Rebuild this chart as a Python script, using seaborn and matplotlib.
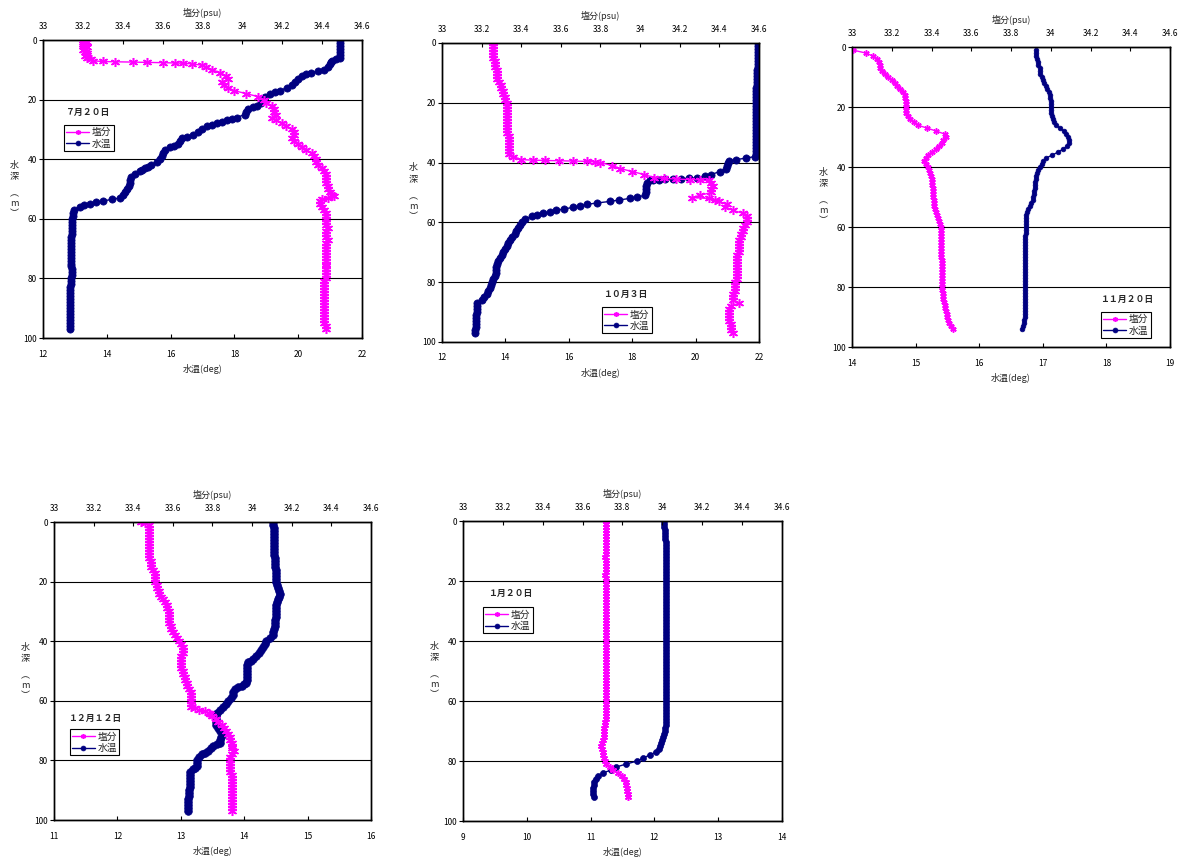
import matplotlib
matplotlib.use("Agg")
import matplotlib.pyplot as plt
import pandas as pd
import seaborn as sns

# ---------------- data ----------------
# 7月20日 (depth 0..97 m, 1 m step) + extra points inside steep steps
jul_temp = [21.30, 21.30, 21.31, 21.31, 21.32, 21.31, 21.30, 21.06, 21.00, 20.92,
            20.80, 20.40, 20.12, 20.00, 19.90, 19.80, 19.64, 19.43, 19.12, 18.96,
            18.90, 18.85, 18.70, 18.44, 18.37, 18.33, 18.07, 17.76, 17.45, 17.13,
            16.97, 16.87, 16.71, 16.35, 16.29, 16.24, 15.98, 15.82, 15.77, 15.72,
            15.66, 15.56, 15.40, 15.19, 15.04, 14.88, 14.77, 14.74, 14.72, 14.70,
            14.62, 14.57, 14.51, 14.41, 13.88, 13.47, 13.15, 12.96, 12.94, 12.93,
            12.92, 12.91, 12.91, 12.90, 12.90, 12.90, 12.89, 12.89, 12.88, 12.88,
            12.87, 12.87, 12.88, 12.88, 12.89, 12.89, 12.89, 12.90, 12.90, 12.90,
            12.89, 12.88, 12.87, 12.86, 12.85, 12.84, 12.84, 12.85, 12.86, 12.86,
            12.86, 12.85, 12.85, 12.84, 12.84, 12.84, 12.85, 12.86]
jul_temp_xd = [6.5, 7.5, 10.5, 11.5, 17.5, 22.5, 26.5, 27.5, 28.5, 32.5, 35.5, 42.5, 43.5, 53.5, 54.5, 55.5]
jul_temp_xv = [21.20, 21.03, 20.62, 20.25, 19.28, 18.57, 17.92, 17.60, 17.29, 16.52, 16.10, 15.30, 15.11, 14.15, 13.66, 13.30]
jul_sal = [33.20, 33.21, 33.20, 33.21, 33.21, 33.22, 33.22, 33.25, 33.75, 33.82,
           33.85, 33.89, 33.92, 33.93, 33.90, 33.91, 33.93, 33.96, 34.02, 34.08,
           34.11, 34.12, 34.15, 34.16, 34.16, 34.17, 34.15, 34.17, 34.20, 34.22,
           34.25, 34.26, 34.26, 34.25, 34.26, 34.28, 34.30, 34.32, 34.35, 34.36,
           34.37, 34.37, 34.38, 34.40, 34.41, 34.42, 34.42, 34.42, 34.42, 34.43,
           34.43, 34.44, 34.45, 34.43, 34.39, 34.39, 34.40, 34.41, 34.42, 34.42,
           34.42, 34.42, 34.42, 34.43, 34.42, 34.42, 34.42, 34.43, 34.42, 34.42,
           34.42, 34.42, 34.42, 34.42, 34.42, 34.42, 34.42, 34.42, 34.42, 34.42,
           34.42, 34.41, 34.41, 34.41, 34.41, 34.41, 34.41, 34.41, 34.41, 34.41,
           34.41, 34.41, 34.41, 34.41, 34.41, 34.41, 34.42, 34.42]
jul_sal_xd = [0.5, 1.5, 2.5, 3.5, 4.5, 5.5, 6.5, 7.2, 7.3, 7.4, 7.5, 7.6, 7.7, 7.8, 8.5, 52.5, 53.5]
jul_sal_xv = [33.22, 33.20, 33.22, 33.20, 33.22, 33.21, 33.24, 33.30, 33.36, 33.45, 33.52, 33.60, 33.66, 33.70, 33.80, 34.46, 34.40]

# 10月3日 (depth 0..97 m)
oct_temp = [21.97, 21.97, 21.97, 21.97, 21.97, 21.97, 21.96, 21.96, 21.96, 21.95,
            21.95, 21.94, 21.94, 21.93, 21.93, 21.92, 21.92, 21.91, 21.91, 21.91,
            21.90, 21.90, 21.90, 21.90, 21.90, 21.90, 21.90, 21.90, 21.90, 21.90,
            21.90, 21.90, 21.90, 21.90, 21.90, 21.90, 21.90, 21.90, 21.86, 21.29,
            21.02, 20.98, 20.97, 20.76, 20.50, 20.03, 18.55, 18.47, 18.45, 18.45,
            18.45, 18.40, 17.92, 17.30, 16.56, 16.14, 15.61, 15.19, 14.83, 14.62,
            14.51, 14.46, 14.40, 14.35, 14.30, 14.22, 14.14, 14.09, 14.04, 13.98,
            13.93, 13.88, 13.83, 13.77, 13.72, 13.70, 13.70, 13.69, 13.67, 13.62,
            13.57, 13.54, 13.51, 13.46, 13.41, 13.32, 13.25, 13.11, 13.09, 13.09,
            13.09, 13.08, 13.07, 13.07, 13.07, 13.06, 13.05, 13.05]
oct_temp_xd = [38.5, 39.5, 44.5, 45.3, 45.4, 45.5, 45.6, 45.7, 45.8, 51.5, 52.5, 53.5, 54.5, 55.5, 56.5, 57.5]
oct_temp_xv = [21.60, 21.05, 20.30, 19.80, 19.55, 19.30, 19.05, 18.85, 18.65, 18.15, 17.60, 16.90, 16.35, 15.85, 15.40, 15.00]
oct_sal = [33.26, 33.26, 33.26, 33.26, 33.26, 33.26, 33.27, 33.27, 33.27, 33.28,
           33.28, 33.28, 33.28, 33.29, 33.30, 33.30, 33.31, 33.31, 33.32, 33.32,
           33.33, 33.33, 33.33, 33.33, 33.33, 33.33, 33.33, 33.33, 33.33, 33.33,
           33.33, 33.34, 33.34, 33.34, 33.34, 33.34, 33.34, 33.34, 33.36, 33.40,
           33.80, 33.86, 33.90, 33.96, 34.02, 34.07, 34.35, 34.36, 34.37, 34.36,
           34.36, 34.30, 34.35, 34.40, 34.44, 34.43, 34.47, 34.52, 34.54, 34.54,
           34.54, 34.53, 34.52, 34.52, 34.51, 34.51, 34.50, 34.50, 34.50, 34.50,
           34.50, 34.49, 34.49, 34.49, 34.49, 34.49, 34.49, 34.49, 34.49, 34.49,
           34.48, 34.48, 34.48, 34.48, 34.47, 34.47, 34.47, 34.50, 34.46, 34.45,
           34.45, 34.45, 34.45, 34.45, 34.46, 34.46, 34.46, 34.47]
oct_sal_xd = [39.2, 39.3, 39.4, 39.5, 39.6, 39.8, 45.3, 45.5, 45.7, 45.8, 51.7, 52.5]
oct_sal_xv = [33.46, 33.52, 33.59, 33.66, 33.73, 33.77, 34.12, 34.18, 34.25, 34.30, 34.26, 34.38]

# 11月20日 (depth 1..94 m)
nov_sal = [33.005, 33.07, 33.106, 33.126, 33.136, 33.14, 33.143, 33.153, 33.164, 33.181,
           33.20, 33.215, 33.226, 33.24, 33.257, 33.265, 33.268, 33.27, 33.27, 33.27,
           33.27, 33.273, 33.28, 33.29, 33.31, 33.33, 33.377, 33.424, 33.466, 33.475,
           33.46, 33.455, 33.44, 33.424, 33.40, 33.38, 33.37, 33.36, 33.374, 33.38,
           33.385, 33.39, 33.395, 33.40, 33.40, 33.404, 33.405, 33.408, 33.41, 33.41,
           33.412, 33.415, 33.415, 33.416, 33.424, 33.43, 33.435, 33.44, 33.443, 33.446,
           33.447, 33.447, 33.448, 33.448, 33.449, 33.449, 33.45, 33.45, 33.45, 33.45,
           33.452, 33.452, 33.453, 33.453, 33.454, 33.454, 33.455, 33.455, 33.455, 33.455,
           33.455, 33.456, 33.458, 33.46, 33.463, 33.466, 33.47, 33.475, 33.478, 33.48,
           33.484, 33.488, 33.50, 33.51]
nov_temp = [16.89, 16.89, 16.90, 16.91, 16.92, 16.93, 16.95, 16.95, 16.96, 16.98,
            17.00, 17.02, 17.05, 17.07, 17.10, 17.11, 17.12, 17.13, 17.13, 17.13,
            17.13, 17.13, 17.14, 17.16, 17.18, 17.20, 17.27, 17.33, 17.37, 17.40,
            17.41, 17.41, 17.38, 17.32, 17.24, 17.15, 17.05, 17.01, 16.98, 16.95,
            16.92, 16.91, 16.90, 16.89, 16.88, 16.87, 16.87, 16.86, 16.86, 16.85,
            16.84, 16.82, 16.80, 16.77, 16.75, 16.74, 16.73, 16.73, 16.73, 16.73,
            16.73, 16.73, 16.72, 16.72, 16.72, 16.72, 16.72, 16.72, 16.72, 16.72,
            16.72, 16.72, 16.72, 16.72, 16.72, 16.72, 16.72, 16.72, 16.72, 16.72,
            16.72, 16.72, 16.72, 16.72, 16.72, 16.72, 16.72, 16.72, 16.72, 16.72,
            16.71, 16.70, 16.69, 16.68]

# 12月12日 (depth 0..97 m)
dec_temp = [14.46, 14.46, 14.47, 14.47, 14.47, 14.47, 14.47, 14.47, 14.47, 14.47,
            14.47, 14.47, 14.48, 14.48, 14.49, 14.49, 14.50, 14.50, 14.50, 14.51,
            14.51, 14.52, 14.54, 14.55, 14.56, 14.55, 14.54, 14.52, 14.51, 14.51,
            14.51, 14.51, 14.50, 14.49, 14.48, 14.48, 14.47, 14.46, 14.45, 14.41,
            14.35, 14.33, 14.30, 14.27, 14.24, 14.19, 14.14, 14.06, 14.04, 14.04,
            14.04, 14.04, 14.04, 14.04, 14.03, 13.96, 13.85, 13.83, 13.82, 13.80,
            13.75, 13.71, 13.67, 13.62, 13.57, 13.55, 13.55, 13.55, 13.56, 13.58,
            13.62, 13.66, 13.63, 13.62, 13.62, 13.51, 13.47, 13.43, 13.33, 13.29,
            13.26, 13.25, 13.25, 13.19, 13.15, 13.15, 13.14, 13.14, 13.14, 13.14,
            13.13, 13.13, 13.13, 13.12, 13.12, 13.11, 13.11, 13.11]
dec_temp_xd = [46.5, 54.5, 55.5, 74.5, 77.5, 82.5]
dec_temp_xv = [14.10, 14.00, 13.90, 13.57, 13.38, 13.22]
dec_sal = [33.44, 33.48, 33.48, 33.48, 33.48, 33.48, 33.48, 33.48, 33.48, 33.48,
           33.48, 33.48, 33.48, 33.49, 33.49, 33.49, 33.50, 33.51, 33.51, 33.51,
           33.51, 33.52, 33.52, 33.53, 33.53, 33.54, 33.55, 33.56, 33.57, 33.57,
           33.58, 33.58, 33.58, 33.58, 33.58, 33.59, 33.59, 33.60, 33.61, 33.62,
           33.63, 33.64, 33.65, 33.65, 33.65, 33.64, 33.64, 33.64, 33.64, 33.64,
           33.65, 33.65, 33.66, 33.66, 33.67, 33.67, 33.68, 33.69, 33.69, 33.69,
           33.69, 33.69, 33.69, 33.73, 33.78, 33.80, 33.82, 33.83, 33.85, 33.86,
           33.87, 33.88, 33.89, 33.89, 33.90, 33.90, 33.90, 33.91, 33.90, 33.89,
           33.89, 33.89, 33.89, 33.89, 33.89, 33.90, 33.90, 33.90, 33.90, 33.90,
           33.90, 33.90, 33.90, 33.90, 33.90, 33.90, 33.90, 33.90]
dec_sal_xd = [0.3, 62.5, 63.5, 64.5]
dec_sal_xv = [33.46, 33.71, 33.76, 33.79]

# 1月20日 (depth 0..92 m)
jan_sal = [33.72, 33.72, 33.72, 33.72, 33.72, 33.72, 33.72, 33.72, 33.72, 33.72,
           33.72, 33.72, 33.715, 33.72, 33.72, 33.72, 33.72, 33.72, 33.715, 33.72,
           33.72, 33.72, 33.72, 33.72, 33.72, 33.72, 33.72, 33.72, 33.72, 33.72,
           33.72, 33.72, 33.72, 33.72, 33.72, 33.72, 33.72, 33.72, 33.72, 33.72,
           33.72, 33.72, 33.72, 33.72, 33.72, 33.72, 33.72, 33.72, 33.72, 33.72,
           33.72, 33.72, 33.72, 33.72, 33.72, 33.72, 33.72, 33.72, 33.72, 33.72,
           33.72, 33.72, 33.72, 33.72, 33.72, 33.72, 33.72, 33.715, 33.712, 33.71,
           33.71, 33.708, 33.706, 33.703, 33.70, 33.694, 33.698, 33.702, 33.704, 33.706,
           33.712, 33.72, 33.736, 33.753, 33.78, 33.80, 33.81, 33.816, 33.82, 33.823,
           33.824, 33.826, 33.828]
jan_temp = [12.15, 12.15, 12.15, 12.16, 12.16, 12.16, 12.17, 12.19, 12.19, 12.19,
            12.19, 12.19, 12.19, 12.19, 12.19, 12.19, 12.19, 12.19, 12.19, 12.19,
            12.19, 12.19, 12.19, 12.19, 12.19, 12.19, 12.19, 12.19, 12.19, 12.19,
            12.19, 12.19, 12.19, 12.19, 12.19, 12.19, 12.19, 12.19, 12.19, 12.19,
            12.19, 12.19, 12.19, 12.19, 12.19, 12.19, 12.19, 12.19, 12.19, 12.19,
            12.19, 12.19, 12.19, 12.19, 12.19, 12.19, 12.19, 12.19, 12.19, 12.19,
            12.19, 12.19, 12.19, 12.19, 12.19, 12.19, 12.19, 12.19, 12.18, 12.17,
            12.16, 12.15, 12.14, 12.12, 12.11, 12.09, 12.07, 12.02, 11.93, 11.82,
            11.73, 11.56, 11.40, 11.32, 11.19, 11.12, 11.09, 11.06, 11.05, 11.04,
            11.04, 11.04, 11.05]

sal_ticks = [33, 33.2, 33.4, 33.6, 33.8, 34, 34.2, 34.4, 34.6]
depth_ticks = [0, 20, 40, 60, 80, 100]

SAL_COLOR = "#FF00FF"
TEMP_COLOR = "#000080"


def profile(depth, vals, extra_d=(), extra_v=()):
    df = pd.DataFrame({"depth": list(depth) + list(extra_d),
                       "value": list(vals) + list(extra_v)})
    return df.sort_values("depth").reset_index(drop=True)


panels = [
    dict(date="７月２０日", rect=[0.0363, 0.6065, 0.2694, 0.3469],
         temp=profile(range(98), jul_temp, jul_temp_xd, jul_temp_xv),
         sal=profile(range(98), jul_sal, jul_sal_xd, jul_sal_xv),
         tticks=[12, 14, 16, 18, 20, 22], date_xy=(0.141, 0.758), leg_xy=(0.066, 0.715),
         tms=5.2, sms=6.5),
    dict(date="１０月３日", rect=[0.3733, 0.6019, 0.2677, 0.3481],
         temp=profile(range(98), oct_temp, oct_temp_xd, oct_temp_xv),
         sal=profile(range(98), oct_sal, oct_sal_xd, oct_sal_xv),
         tticks=[12, 14, 16, 18, 20, 22], date_xy=(0.577, 0.160), leg_xy=(0.505, 0.117),
         tms=5.2, sms=6.5),
    dict(date="１１月２０日", rect=[0.7196, 0.5960, 0.2686, 0.3492],
         temp=profile(range(1, 95), nov_temp),
         sal=profile(range(1, 95), nov_sal),
         tticks=[14, 15, 16, 17, 18, 19], date_xy=(0.865, 0.160), leg_xy=(0.783, 0.117),
         tms=3.4, sms=4.5),
    dict(date="１２月１２日", rect=[0.0456, 0.0454, 0.2677, 0.3469],
         temp=profile(range(98), dec_temp, dec_temp_xd, dec_temp_xv),
         sal=profile(range(98), dec_sal, dec_sal_xd, dec_sal_xv),
         tticks=[11, 12, 13, 14, 15, 16], date_xy=(0.129, 0.342), leg_xy=(0.050, 0.305),
         tms=5.5, sms=6.5),
    dict(date="１月２０日", rect=[0.3910, 0.0442, 0.2694, 0.3492],
         temp=profile(range(93), jan_temp),
         sal=profile(range(93), jan_sal),
         tticks=[9, 10, 11, 12, 13, 14], date_xy=(0.147, 0.757), leg_xy=(0.063, 0.713),
         tms=4.3, sms=5.0),
]

sns.set_theme(style="white")
plt.rcParams["font.family"] = ["Noto Sans CJK JP", "DejaVu Sans"]
plt.rcParams["axes.unicode_minus"] = False

fig = plt.figure(figsize=(11.84, 8.59), dpi=100)

for p in panels:
    ax = fig.add_axes(p["rect"])
    ax2 = ax.twiny()

    sns.lineplot(data=p["temp"], x="value", y="depth", sort=False, estimator=None, ax=ax,
                 color=TEMP_COLOR, linewidth=1, marker="o", markersize=p["tms"],
                 markeredgecolor=TEMP_COLOR, markeredgewidth=0.5, label="水温", legend=False)
    sns.lineplot(data=p["sal"], x="value", y="depth", sort=False, estimator=None, ax=ax2,
                 color=SAL_COLOR, linewidth=1, marker=(6, 2, 0), markersize=p["sms"],
                 markeredgecolor=SAL_COLOR, markeredgewidth=1.1, label="塩分", legend=False)

    ax.set_xlim(p["tticks"][0], p["tticks"][-1])
    ax.set_xticks(p["tticks"])
    ax.set_xticklabels([str(t) for t in p["tticks"]])
    ax2.set_xlim(33, 34.6)
    ax2.set_xticks(sal_ticks)
    ax2.set_xticklabels([f"{t:g}" for t in sal_ticks])
    ax.set_ylim(100, 0)
    ax.set_yticks(depth_ticks)

    ax.yaxis.grid(True, color="black", linewidth=0.8)
    ax.xaxis.grid(False)
    ax2.grid(False)
    for a in (ax, ax2):
        for sp in a.spines.values():
            sp.set_color("black")
            sp.set_linewidth(1.0)

    ax.tick_params(axis="x", direction="in", length=3, width=0.8, pad=8.3,
                   labelsize=6, bottom=True, colors="black")
    ax2.tick_params(axis="x", direction="in", length=3, width=0.8, pad=6.5,
                    labelsize=6, top=True, colors="black")
    ax.tick_params(axis="y", direction="out", length=3, width=0.8, pad=1.5,
                   labelsize=6, left=True, colors="black")

    ax.set_xlabel("水温(deg)", fontsize=6.5, labelpad=4)
    ax2.set_xlabel("塩分(psu)", fontsize=6.5, labelpad=4)
    ax.set_ylabel("")
    ax2.set_ylabel("")

    # stacked vertical y label
    for ch, dy in [("水", -90), ("深", -98), ("︵", -111), ("m", -118), ("︶", -125)]:
        ax.annotate(ch, xy=(0, 1), xycoords="axes fraction", xytext=(-20.5, dy),
                    textcoords="offset points", ha="center", va="center", fontsize=6.5)

    ax2.text(p["date_xy"][0], p["date_xy"][1], p["date"], transform=ax2.transAxes,
             ha="center", va="center", fontsize=6.4, fontweight="bold")

    h_s, l_s = ax2.get_legend_handles_labels()
    h_t, l_t = ax.get_legend_handles_labels()
    leg = ax2.legend(h_s + h_t, l_s + l_t, loc="upper left", bbox_to_anchor=p["leg_xy"],
                     borderaxespad=0, fontsize=7, frameon=True, fancybox=False,
                     edgecolor="black", framealpha=1, handlelength=2.3,
                     handletextpad=0.3, borderpad=0.25, labelspacing=0.15, numpoints=1)
    leg.get_frame().set_linewidth(0.8)
    for line in leg.get_lines():
        line.set_markersize(3.5)

fig.savefig("out.png", dpi=100)
